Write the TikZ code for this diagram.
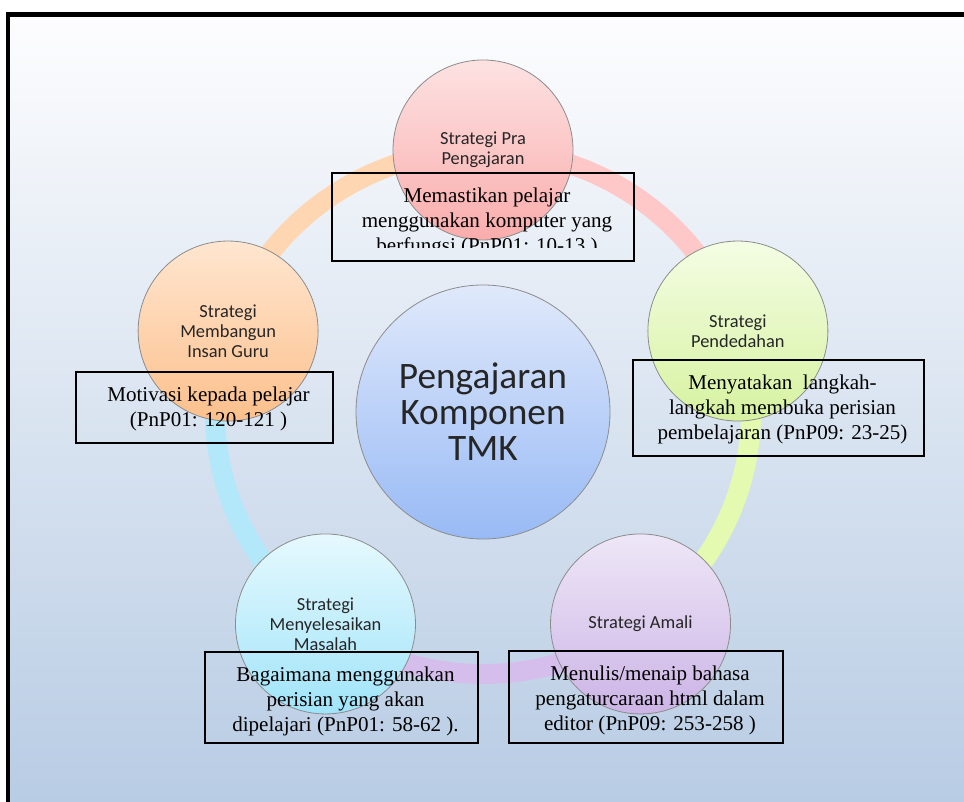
\documentclass[tikz,border=0pt]{standalone}
\usepackage{fontspec}
\setmainfont{Liberation Serif}
\newfontfamily\calibri{Carlito}
\usetikzlibrary{positioning}

\definecolor{latarAtas}{RGB}{253,253,254}
\definecolor{latarBawah}{RGB}{184,204,228}
\definecolor{praAtas}{RGB}{253,226,226}
\definecolor{praBawah}{RGB}{250,172,172}
\definecolor{dedahAtas}{RGB}{244,253,228}
\definecolor{dedahBawah}{RGB}{214,242,160}
\definecolor{amaliAtas}{RGB}{238,231,247}
\definecolor{amaliBawah}{RGB}{204,180,230}
\definecolor{masalahAtas}{RGB}{230,249,254}
\definecolor{masalahBawah}{RGB}{160,228,250}
\definecolor{insanAtas}{RGB}{255,230,208}
\definecolor{insanBawah}{RGB}{252,192,140}
\definecolor{tmkAtas}{RGB}{224,233,251}
\definecolor{tmkBawah}{RGB}{152,186,245}
\definecolor{cinPra}{RGB}{255,200,200}
\definecolor{cinDedah}{RGB}{228,250,176}
\definecolor{cinAmali}{RGB}{214,190,236}
\definecolor{cinMasalah}{RGB}{178,232,250}
\definecolor{cinInsan}{RGB}{255,214,178}

\begin{document}
\begin{tikzpicture}[x=0.75pt,y=0.75pt,
    strategi/.style={circle,draw=black!45,line width=0.6pt,minimum size=135pt,
      inner sep=0pt,align=center,text=black!85,
      font=\calibri\fontsize{13.8}{15}\selectfont},
    kotak/.style={draw=black,line width=1.2pt,inner sep=0pt},
    teks/.style={inner sep=0pt,align=center,
      font=\fontsize{15.8}{18.75}\selectfont}]
      \useasboundingbox (0,0) rectangle (964,802) ;
      \fill[white] (0,0) rectangle (964,802) ;
      \shade[top color=latarAtas,bottom color=latarBawah] (8,0) rectangle (964,787.5) ;
      \draw[line width=3.5pt] (8,0) -- (8,787.5) -- (966,787.5) ;
      % cincin
      \coordinate (pusat) at (483,390) ;
      \foreach \a/\c in {90/cinPra,18/cinDedah,-54/cinAmali,-126/cinMasalah,-198/cinInsan}
        \draw[line width=15pt,draw=\c] ([shift={(\a:268 and 262)}]pusat) %
          arc[start angle=\a,end angle=\a-72,x radius=268,y radius=262] ;
      % bulatan
      \node[strategi,top color=praAtas,bottom color=praBawah] %
      (pra) at ([shift={(90:268 and 262)}]pusat) {Strategi Pra\\Pengajaran} ;
      \node[strategi,top color=dedahAtas,bottom color=dedahBawah] %
      (dedah) at ([shift={(18:268 and 262)}]pusat) {Strategi\\Pendedahan} ;
      \node[strategi,top color=amaliAtas,bottom color=amaliBawah] %
      (amali) at ([shift={(-54:268 and 262)}]pusat) {Strategi Amali} ;
      \node[strategi,top color=masalahAtas,bottom color=masalahBawah] %
      (masalah) at ([shift={(-126:268 and 262)}]pusat) {Strategi\\Menyelesaikan\\Masalah} ;
      \node[strategi,top color=insanAtas,bottom color=insanBawah] %
      (insan) at ([shift={(162:268 and 262)}]pusat) {Strategi\\Membangun\\Insan Guru} ;
      \node[circle,draw=black!45,line width=0.6pt,minimum size=190.5pt,align=center,
        top color=tmkAtas,bottom color=tmkBawah,text=black!85,
        font=\calibri\fontsize{28}{27}\selectfont] %
      (tmk) at (pusat) {Pengajaran\\Komponen\\TMK} ;
      % kotak
      \node[kotak,minimum width=226.5pt,minimum height=66pt] (kPra) at (483,585) {} ;
      \node[kotak,minimum width=218.25pt,minimum height=72pt] (kDedah) at (778.5,394) {} ;
      \node[kotak,minimum width=192.75pt,minimum height=53.25pt] (kInsan) at (204.5,394.5) {} ;
      \node[kotak,minimum width=204.75pt,minimum height=68.25pt] (kMasalah) at (341.5,104.5) {} ;
      \node[kotak,minimum width=205.5pt,minimum height=69pt] (kAmali) at (646,105) {} ;
      \begin{scope}
        \clip (kPra.north west) rectangle ([yshift=-56.25pt]kPra.north east) ;
        \node[teks,below=11.7pt of kPra.north,xshift=3pt] (tPra) %
        {Memastikan pelajar\\menggunakan komputer yang\\berfungsi (PnP01: 10-13 )} ;
      \end{scope}
      \node[teks,below=11.7pt of kDedah.north,xshift=3pt] (tDedah) %
      {Menyatakan\ \ langkah-\\langkah membuka perisian\\pembelajaran (PnP09: 23-25)} ;
      \node[teks,below=11.7pt of kInsan.north,xshift=3pt] (tInsan) %
      {Motivasi kepada pelajar\\(PnP01: 120-121 )} ;
      \node[teks,below=11.7pt of kMasalah.north,xshift=3pt] (tMasalah) %
      {Bagaimana menggunakan\\perisian yang akan\\dipelajari (PnP01: 58-62 ).} ;
      \node[teks,below=11.7pt of kAmali.north,xshift=3pt] (tAmali) %
      {Menulis/menaip bahasa\\pengaturcaraan html dalam\\editor (PnP09: 253-258 )} ;
    \end{tikzpicture}
\end{document}
